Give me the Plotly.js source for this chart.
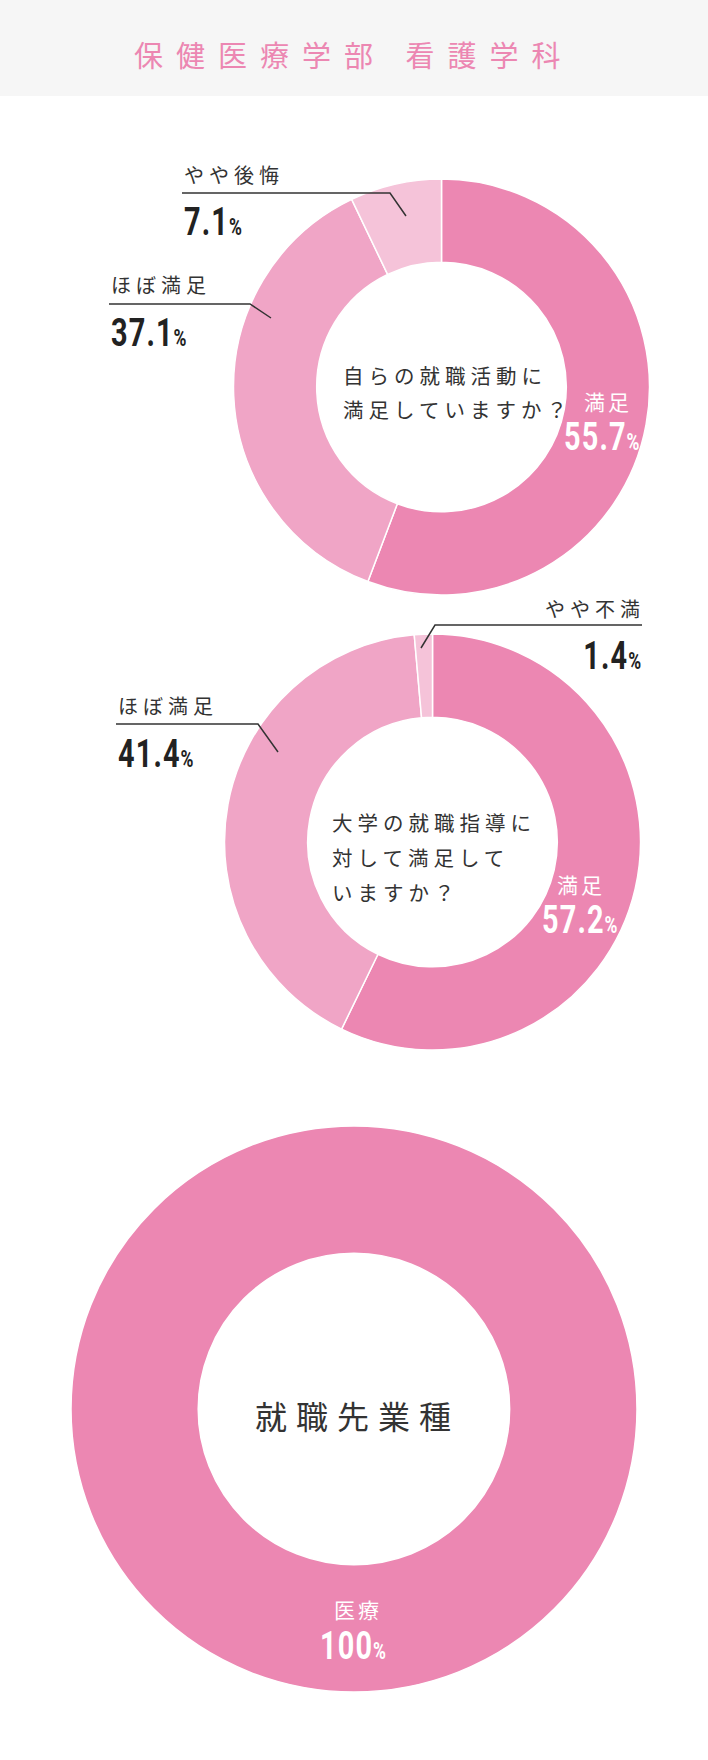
<!DOCTYPE html>
<html>
<head>
<meta charset="utf-8">
<script src="https://cdn.plot.ly/plotly-3.0.1.min.js"></script>
<style>
  html, body { margin: 0; padding: 0; background: #ffffff; }
  #chart { width: 708px; height: 1760px; }
</style>
</head>
<body>
<div id="chart"></div>
<script>
// ---- data ----
const pageTitle = '保健医療学部 看護学科';

const q1Question = ['自らの就職活動に', '満足していますか？'];
const q1Labels = ['満足', 'ほぼ満足', 'やや後悔'];
const q1Values = [55.7, 37.1, 7.1];

const q2Question = ['大学の就職指導に', '対して満足して', 'いますか？'];
const q2Labels = ['満足', 'ほぼ満足', 'やや不満'];
const q2Values = [57.2, 41.4, 1.4];

const q3Question = ['就職先業種'];
const q3Labels = ['医療'];
const q3Values = [100];

// ---- styling ----
const W = 708, H = 1760;
const colors = ['#ec87b2', '#f0a5c6', '#f5c3d9'];
const JP = '"Noto Sans CJK JP", "Noto Sans", sans-serif';
const NUM = 'Roboto, "Liberation Sans", sans-serif';
const DARK = '#333333';
const NUM_SCALE = 0.76;

const px = x => x / W;
const py = y => 1 - y / H;

function domainFor(cx, cy, r) {
  return { x: [px(cx - r), px(cx + r)], y: [py(cy + r), py(cy - r)] };
}

function pieTrace(labels, values, cx, cy, r, hole) {
  return {
    type: 'pie',
    labels: labels,
    values: values,
    sort: false,
    direction: 'clockwise',
    rotation: 0,
    hole: hole,
    textinfo: 'none',
    hoverinfo: 'skip',
    showlegend: false,
    marker: { colors: colors.slice(0, labels.length), line: { color: '#ffffff', width: 1.5 } },
    domain: domainFor(cx, cy, r)
  };
}

function spaced(t, ls) { return '<span style="letter-spacing:' + ls + 'px">' + t + '</span>'; }
function pct(v, pctSize) { return spaced(String(v), 1.5) + '<span style="font-size:' + pctSize + 'px">%</span>'; }

function ann(text, x, y, size, color, family, opts) {
  return Object.assign({
    text: text, xref: 'paper', yref: 'paper', x: px(x), y: py(y),
    xanchor: 'left', yanchor: 'middle', align: 'left', showarrow: false,
    font: { size: size, color: color, family: family }
  }, opts || {});
}

const numberIdx = [];
const annotations = [];
function add(a, isNum) { if (isNum) numberIdx.push(annotations.length); annotations.push(a); }

function numAnn(v, x, y, color, opts) {
  add(ann(pct(v, 23), x, y, 38, color, NUM, Object.assign({ font: { size: 38, color: color, family: NUM, weight: 700 } }, opts || {})), true);
}
function txt(t, x, y, size, color, ls, opts) { add(ann(spaced(t, ls), x, y, size, color, JP, opts), false); }

function leader(points) {
  let d = 'M ' + px(points[0][0]) + ' ' + py(points[0][1]);
  for (let i = 1; i < points.length; i++) d += ' L ' + px(points[i][0]) + ' ' + py(points[i][1]);
  return { type: 'path', xref: 'paper', yref: 'paper', path: d, line: { color: DARK, width: 1.5 } };
}

const traces = [
  pieTrace(q1Labels, q1Values, 441.5, 387, 208, 0.6),
  pieTrace(q2Labels, q2Values, 432.5, 842, 208, 0.6),
  pieTrace(q3Labels, q3Values, 354, 1409, 283, 0.55)
];

// header
txt(pageTitle, 354, 54, 29, '#ec87b2', 13, { xanchor: 'center' });

// chart 1
txt(q1Labels[2], 182, 174, 20, DARK, 5);
numAnn(q1Values[2], 182, 222, '#222222');
txt(q1Labels[1], 109, 284, 20, DARK, 5);
numAnn(q1Values[1], 109, 333, '#222222');
txt(q1Question[0], 341, 375, 20.5, DARK, 5);
txt(q1Question[1], 341, 409, 20.5, DARK, 5);
txt(q1Labels[0], 582, 401, 21, '#ffffff', 3);
numAnn(q1Values[0], 562, 437, '#ffffff');

// chart 2
txt(q2Labels[2], 647, 608, 20, DARK, 5, { xanchor: 'right' });
numAnn(q2Values[2], 643, 656, '#222222', { xanchor: 'right' });
txt(q2Labels[1], 116, 705, 20, DARK, 5);
numAnn(q2Values[1], 116, 754, '#222222');
txt(q2Question[0], 330, 822, 20.5, DARK, 5);
txt(q2Question[1], 330, 857, 20.5, DARK, 5);
txt(q2Question[2], 330, 892, 20.5, DARK, 5);
txt(q2Labels[0], 555, 884, 21, '#ffffff', 3);
numAnn(q2Values[0], 540, 920, '#ffffff');

// chart 3
txt(q3Question[0], 253, 1415, 32, DARK, 9);
txt(q3Labels[0], 332, 1609, 21, '#ffffff', 3);
numAnn(q3Values[0], 318, 1646, '#ffffff');

const shapes = [
  { type: 'rect', xref: 'paper', yref: 'paper', x0: 0, x1: 1, y0: py(96), y1: 1, fillcolor: '#f6f6f6', line: { width: 0 }, layer: 'below' },
  leader([[182, 193], [390, 193], [406, 216]]),
  leader([[109, 304], [250, 304], [271, 318]]),
  leader([[642, 625], [435, 625], [421, 648]]),
  leader([[116, 724], [258, 724], [278, 752]])
];

const layout = {
  width: W, height: H,
  margin: { l: 0, r: 0, t: 0, b: 0 },
  paper_bgcolor: '#ffffff',
  plot_bgcolor: '#ffffff',
  showlegend: false,
  annotations: annotations,
  shapes: shapes
};

Plotly.newPlot('chart', traces, layout, { displayModeBar: false, staticPlot: true }).then(function (gd) {
  // condense the percentage figures horizontally (tall, narrow numerals)
  numberIdx.forEach(function (i) {
    const g = gd.querySelector('.annotation[data-index="' + i + '"]');
    if (!g) return;
    const t = g.querySelector('text.annotation-text');
    if (!t) return;
    const bb = t.getBBox();
    const right = annotations[i].xanchor === 'right';
    const ox = right ? bb.x + bb.width : bb.x;
    const existing = t.getAttribute('transform') || '';
    t.setAttribute('transform', existing + ' translate(' + ox + ',0) scale(' + NUM_SCALE + ',1) translate(' + (-ox) + ',0)');
  });
});
</script>
</body>
</html>
